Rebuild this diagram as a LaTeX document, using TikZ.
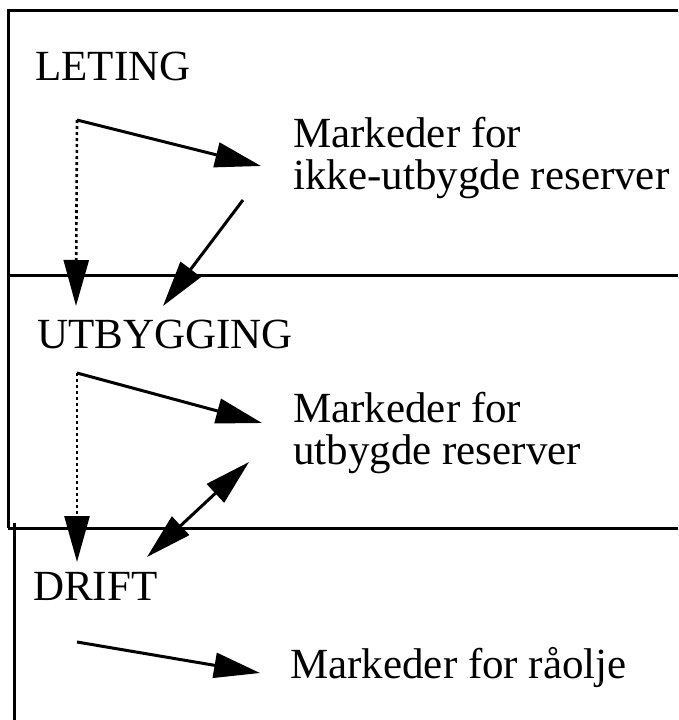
\documentclass[tikz,border=0pt]{standalone}
\usepackage{fontspec}
\setmainfont{Liberation Serif}
\usetikzlibrary{arrows.meta}
\begin{document}
\begin{tikzpicture}[x=1pt,y=-1pt,
  lbl/.style={anchor=base west,inner sep=0pt,font=\fontsize{43}{41}\selectfont},
  frame/.style={line width=3pt},
  tip/.tip={Triangle[length=46pt,width=25pt]},
  conn/.style={line width=3pt,-tip},
  dotconn/.style={line width=2.6pt,dash pattern=on 3pt off 3pt,-tip},
  biconn/.style={line width=3pt,tip-tip}]
\useasboundingbox (0,0) rectangle (678,720);
% frame
\draw[frame] (678,10) -- (8,10) -- (8,528);
\draw[frame] (8,275) -- (678,275);
\draw[frame] (8,528) -- (678,528);
\draw[frame] (14,523) -- (14,720);
% labels
\node[lbl] (leting) at (35,80) {LETING};
\node[lbl] (mkA) at (293,147) {\begin{tabular}[t]{@{}l@{}}Markeder for\\ikke-utbygde reserver\end{tabular}};
\node[lbl] (utb) at (37,348) {UTBYGGING};
\node[lbl] (mkB) at (293,422) {\begin{tabular}[t]{@{}l@{}}Markeder for\\utbygde reserver\end{tabular}};
\node[lbl] (drift) at (33,600) {DRIFT};
\node[lbl] (mkC) at (290,678) {Markeder for råolje};
% connector end points
\coordinate (aS) at (77,120);
\coordinate (aT) at (261,166);
\coordinate (aD) at (76,306);
\coordinate (bF) at (243,200);
\coordinate (bT) at (163,306);
\coordinate (cS) at (77,373);
\coordinate (cT) at (262,423);
\coordinate (cD) at (77,562);
\coordinate (dU) at (249,462);
\coordinate (dL) at (147,557);
\coordinate (eS) at (77,642);
\coordinate (eT) at (260,673);
% connectors
\draw[conn] (aS) -- (aT);
\draw[dotconn] (aS) -- (aD);
\draw[conn] (bF) -- (bT);
\draw[conn] (cS) -- (cT);
\draw[dotconn] (cS) -- (cD);
\draw[biconn] (dL) -- (dU);
\draw[conn] (eS) -- (eT);
\end{tikzpicture}
\end{document}
